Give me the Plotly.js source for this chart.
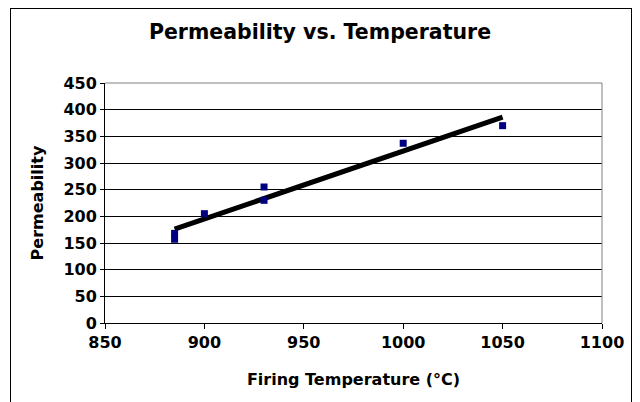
<!DOCTYPE html>
<html><head><meta charset="utf-8">
<script src="https://cdn.plot.ly/plotly-3.0.1.min.js"></script>
<style>
html,body{margin:0;padding:0;background:#fff;}
#frame{position:absolute;left:10px;top:8px;width:622px;height:400px;border:1px solid #000;box-sizing:border-box;}
#chart{position:absolute;left:0;top:0;width:640px;height:402px;}
</style></head>
<body>
<div id="chart"></div>
<div id="frame" style="pointer-events:none"></div>
<script>
const temps = [885, 885, 900, 930, 930, 1000, 1050];
const perm = [157, 168, 205, 255, 230, 337, 370];
const trendX = [885, 1050];
const trendY = [176, 386];
const xTicks = [850, 900, 950, 1000, 1050, 1100];
const yTicks = [0, 50, 100, 150, 200, 250, 300, 350, 400, 450];

const font = {family: 'DejaVu Sans, Verdana, sans-serif', color: '#000'};
const data = [
  {x: trendX, y: trendY, mode: 'lines', line: {color: '#000', width: 5}, hoverinfo: 'skip'},
  {x: temps, y: perm, mode: 'markers', marker: {symbol: 'square', size: 7, color: '#000080'}}
];
const layout = {
  width: 640, height: 402,
  margin: {l: 105, r: 38, t: 83, b: 79},
  paper_bgcolor: '#fff', plot_bgcolor: '#fff',
  showlegend: false,
  title: {text: '<b>Permeability vs. Temperature</b>', x: 0.5, xanchor: 'center', y: 0.92, yanchor: 'middle', font: Object.assign({size: 20.5}, font)},
  xaxis: {
    range: [850, 1100], tickvals: xTicks, ticktext: xTicks.map(v => '<b>' + v + '</b>'),
    showgrid: false, zeroline: false, showline: true, linecolor: '#000', linewidth: 1,
    ticks: 'outside', ticklen: 5, tickcolor: '#000', tickfont: Object.assign({size: 16}, font),
    title: {text: '<b>Firing Temperature (°C)</b>', font: Object.assign({size: 16}, font), standoff: 22},
    mirror: false
  },
  yaxis: {
    range: [0, 450], tickvals: yTicks, ticktext: yTicks.map(v => '<b>' + v + '</b>'),
    showgrid: true, gridcolor: '#000', gridwidth: 1, zeroline: false,
    showline: true, linecolor: '#000', linewidth: 1,
    ticks: 'outside', ticklen: 4, tickcolor: '#000', tickfont: Object.assign({size: 16}, font),
    title: {text: '<b>Permeability</b>', font: Object.assign({size: 16}, font), standoff: 15}
  },
  shapes: [
    {type: 'line', xref: 'paper', yref: 'paper', x0: 0, x1: 1, y0: 1, y1: 1, line: {color: '#808080', width: 1}},
    {type: 'line', xref: 'paper', yref: 'paper', x0: 1, x1: 1, y0: 0, y1: 1, line: {color: '#808080', width: 1}}
  ]
};
Plotly.newPlot('chart', data, layout, {staticPlot: true});
</script>
</body></html>
